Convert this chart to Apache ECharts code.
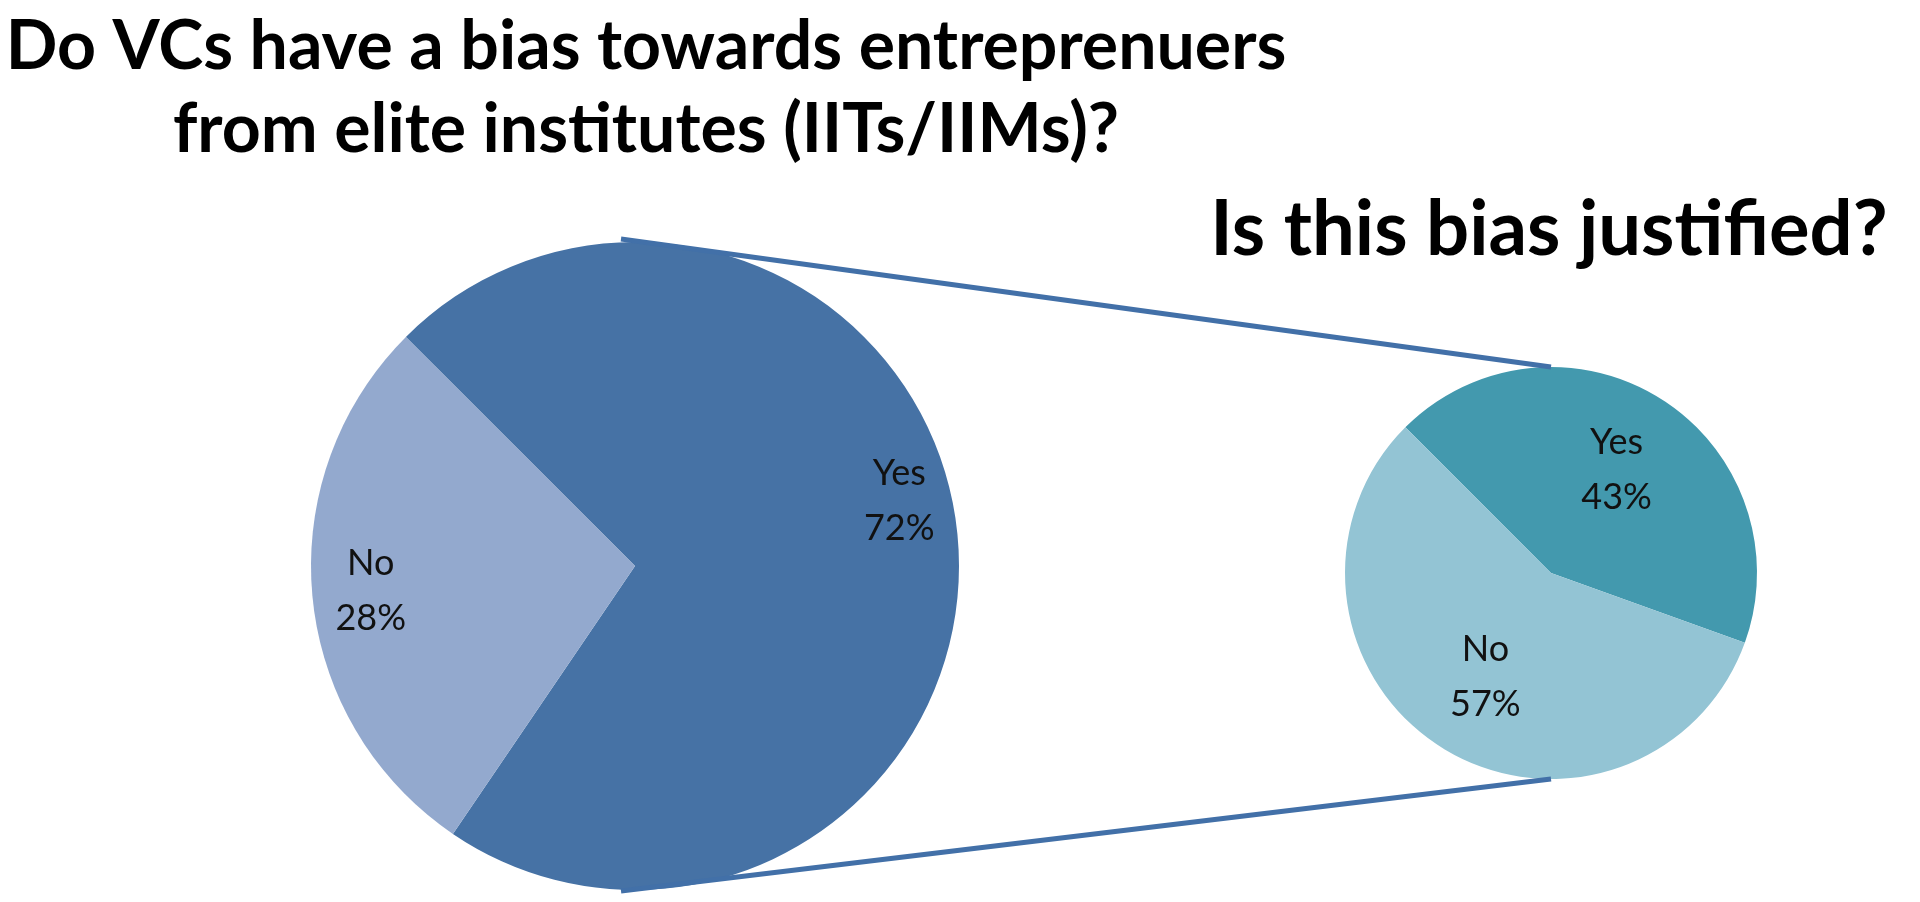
<!DOCTYPE html>
<html>
<head>
<meta charset="utf-8">
<script src="https://cdn.jsdelivr.net/npm/echarts@6/dist/echarts.min.js"></script>
<style>
  html, body { margin: 0; padding: 0; background: #fff; }
  #main { width: 1920px; height: 902px; }
</style>
</head>
<body>
<div id="main"></div>
<script>
  // data
  const mainCategories = ['Yes', 'No']
  const mainValues = [72, 28]
  const subCategories = ['Yes', 'No']
  const subValues = [43, 57]

  const mainColors = ['#4672a5', '#93a9ce']
  const subColors = ['#4399ae', '#93c4d4']

  // layout of the two pies (px)
  const bigC = [635, 566], bigR = 324
  const smallC = [1551, 573], smallR = 206

  const chart = echarts.init(document.getElementById('main'))

  const labelFont = {
    color: '#111',
    fontFamily: 'Lato',
    fontSize: 36,
    lineHeight: 55,
    formatter: p => p.name + '\n' + p.value + '%'
  }

  function pieData(names, values, colors) {
    return names.map((n, i) => ({ name: n, value: values[i], itemStyle: { color: colors[i] } }))
  }

  const option = {
    animation: false,
    graphic: [
      {
        type: 'text', x: 646, y: 47,
        style: {
          text: 'Do VCs have a bias towards entreprenuers',
          font: 'bold 68px Lato', fill: '#000', align: 'center', verticalAlign: 'middle'
        }
      },
      {
        type: 'text', x: 646, y: 130,
        style: {
          text: 'from elite institutes (IITs/IIMs)?',
          font: 'bold 68px Lato', fill: '#000', align: 'center', verticalAlign: 'middle'
        }
      },
      {
        type: 'text', x: 1549, y: 230,
        style: {
          text: 'Is this bias justified?',
          font: 'bold 76px Lato', fill: '#000', align: 'center', verticalAlign: 'middle'
        }
      },
      // connector lines between the pies
      {
        type: 'line', z: 10,
        shape: { x1: bigC[0] - 14, y1: bigC[1] - bigR - 3, x2: smallC[0], y2: smallC[1] - smallR },
        style: { stroke: '#4270a8', lineWidth: 5 }
      },
      {
        type: 'line', z: 10,
        shape: { x1: bigC[0] - 14, y1: bigC[1] + bigR + 1, x2: smallC[0], y2: smallC[1] + smallR },
        style: { stroke: '#4270a8', lineWidth: 5 }
      }
    ],
    series: [
      {
        type: 'pie',
        center: bigC,
        radius: [0, bigR],
        startAngle: 135,
        silent: true,
        label: { show: false },
        data: pieData(mainCategories, mainValues, mainColors)
      },
      {
        // transparent ring only used to place the labels
        type: 'pie',
        center: bigC,
        radius: [bigR * 0.62, bigR],
        startAngle: 135,
        silent: true,
        itemStyle: { color: 'transparent' },
        label: Object.assign({ show: true, position: 'inside' }, labelFont),
        data: mainCategories.map((n, i) => ({
          name: n,
          value: mainValues[i],
          label: i === 0 ? { offset: [0, -40] } : {}
        }))
      },
      {
        type: 'pie',
        center: smallC,
        radius: [0, smallR],
        startAngle: 135,
        silent: true,
        label: { show: false },
        data: pieData(subCategories, subValues, subColors)
      },
      {
        type: 'pie',
        center: smallC,
        radius: [smallR * 0.16, smallR],
        startAngle: 135,
        silent: true,
        itemStyle: { color: 'transparent' },
        label: Object.assign({ show: true, position: 'inside' }, labelFont),
        data: subCategories.map((n, i) => ({ name: n, value: subValues[i] }))
      }
    ]
  }

  chart.setOption(option)
</script>
</body>
</html>
